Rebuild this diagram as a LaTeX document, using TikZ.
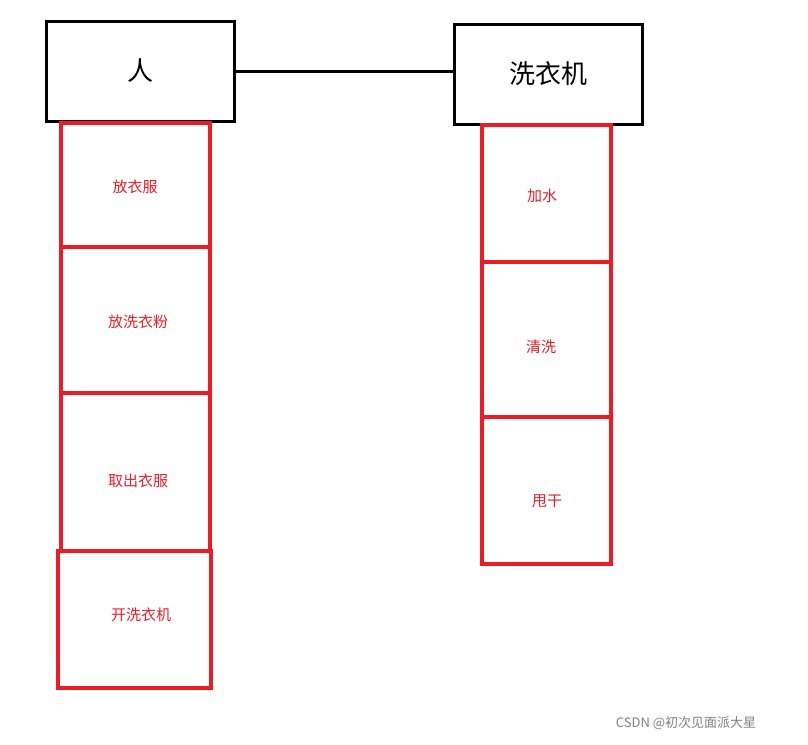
\documentclass[tikz,border=0pt]{standalone}
\usepackage{fontspec}
\setmainfont{Noto Sans CJK SC}
\usetikzlibrary{positioning}
\definecolor{boxred}{RGB}{237,28,36}
\tikzset{
  obj/.style={draw, line width=3pt, minimum width=188pt, minimum height=100pt, font=\fontsize{26}{30}\selectfont},
  act/.style={draw=boxred, text=boxred, line width=4pt, font=\fontsize{15}{18}\selectfont}
}
\begin{document}
\begin{tikzpicture}[x=1pt,y=-1pt]
		\useasboundingbox (0,0) rectangle (808,744);
		\node[obj] (ren) at (140,71) {人};
		\node[obj] (xyj) at (548,74) {洗衣机};
		\draw[line width=3pt] (ren.east) -- (xyj.west |- ren.east);
		
		% left column
		\node[act, minimum width=149pt, minimum height=124pt] (fyf) at (135.5,185) {};
		\node[act, minimum width=149pt, minimum height=146pt] (fxyf) at (135.5,320) {};
		\node[act, minimum width=149pt, minimum height=158pt] (qcyf) at (135.5,472) {};
		\node[act, minimum width=153pt, minimum height=137pt] (kxyj) at (134.5,619.5) {};
		\node[text=boxred, font=\fontsize{15}{18}\selectfont] at (135,187) {放衣服};
		\node[text=boxred, font=\fontsize{15}{18}\selectfont] at (138,322) {放洗衣粉};
		\node[text=boxred, font=\fontsize{15}{18}\selectfont] at (138,481) {取出衣服};
		\node[text=boxred, font=\fontsize{15}{18}\selectfont] at (141,615) {开洗衣机};
		
		% right column
		\node[act, minimum width=129pt, minimum height=137pt] (js) at (546.5,193.5) {};
		\node[act, minimum width=129pt, minimum height=155pt] (qx) at (546.5,339.5) {};
		\node[act, minimum width=129pt, minimum height=147pt] (sg) at (546.5,490.5) {};
		\node[text=boxred, font=\fontsize{15}{18}\selectfont] at (542,196) {加水};
		\node[text=boxred, font=\fontsize{15}{18}\selectfont] at (541,347) {清洗};
		\node[text=boxred, font=\fontsize{15}{18}\selectfont] at (547,501) {甩干};
		
		\node[text=gray, font=\fontsize{13}{15}\selectfont] (wm) at (686,723) {CSDN @初次见面派大星};
\end{tikzpicture}
\end{document}
